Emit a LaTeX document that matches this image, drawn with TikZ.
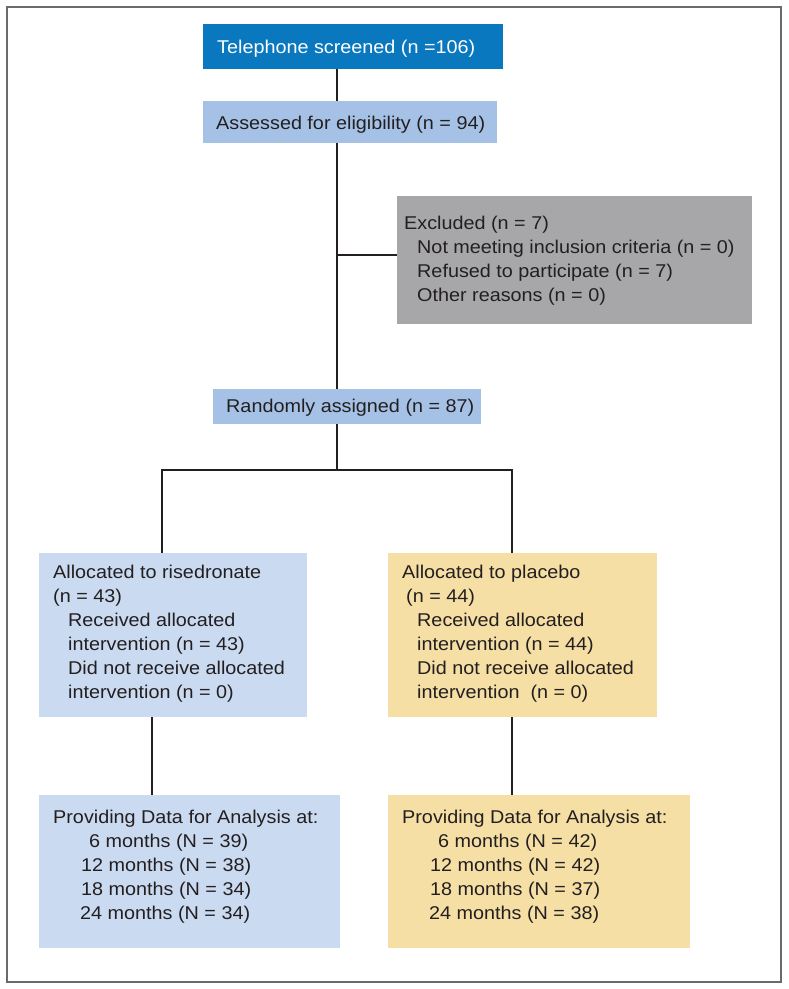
\documentclass[tikz,border=0pt]{standalone}
\usepackage{fontspec}
\setmainfont{Liberation Sans}[FakeStretch=1.07]
\definecolor{txt}{HTML}{231F20}
\definecolor{topblue}{HTML}{0A78BF}
\definecolor{midblue}{HTML}{A5C2E6}
\definecolor{paleblue}{HTML}{CADAF0}
\definecolor{paleyellow}{HTML}{F5DFA5}
\definecolor{exclgray}{HTML}{A7A7A9}
\definecolor{framegray}{HTML}{6A6A6A}
\tikzset{
  box/.style={rectangle, inner sep=0pt, draw=none, anchor=north west},
  lbl/.style={inner sep=0pt, anchor=base west, align=left, text=txt,
    font=\fontsize{18.5}{24}\selectfont},
  conn/.style={draw=txt, line width=1.4pt}
}
\newcommand{\ind}[1]{\hspace*{#1pt}}
\begin{document}
\begin{tikzpicture}[x=1pt,y=-1pt]
\useasboundingbox (0,0) rectangle (788,989);
\draw[framegray, line width=2pt] (7,7) rectangle (781,982);

% boxes
\node[box, fill=topblue, minimum width=300pt, minimum height=45pt] (tel) at (203,24) {};
\node[box, fill=midblue, minimum width=294pt, minimum height=42pt] (assess) at (203,101) {};
\node[box, fill=exclgray, minimum width=355pt, minimum height=128pt] (excl) at (397,196) {};
\node[box, fill=midblue, minimum width=268pt, minimum height=35pt] (rand) at (213,389) {};
\node[box, fill=paleblue, minimum width=268pt, minimum height=164pt] (allocA) at (39,553) {};
\node[box, fill=paleyellow, minimum width=269pt, minimum height=164pt] (allocB) at (388,553) {};
\node[box, fill=paleblue, minimum width=301pt, minimum height=153pt] (dataA) at (39,795) {};
\node[box, fill=paleyellow, minimum width=302pt, minimum height=153pt] (dataB) at (388,795) {};

% texts (multi-line nodes: base = baseline of last line)
\node[lbl, text=white] (telT) at (217,53) {Telephone screened (n =106)};
\node[lbl] (assessT) at (216,129) {Assessed for eligibility (n = 94)};
\node[lbl] (exclT) at (404,301) {Excluded (n = 7)\\
\ind{13}Not meeting inclusion criteria (n = 0)\\
\ind{13}Refused to participate (n = 7)\\
\ind{13}Other reasons (n = 0)};
\node[lbl] (randT) at (226,412) {Randomly assigned (n = 87)};
\node[lbl] (allocAT) at (53,698) {Allocated to risedronate\\
(n = 43)\\
\ind{15}Received allocated\\
\ind{15}intervention (n = 43)\\
\ind{15}Did not receive allocated\\
\ind{15}intervention (n = 0)};
\node[lbl] (allocBT) at (402,698) {Allocated to placebo\\
\ind{4}(n = 44)\\
\ind{15}Received allocated\\
\ind{15}intervention (n = 44)\\
\ind{15}Did not receive allocated\\
\ind{15}intervention \ (n = 0)};
\node[lbl] (dataAT) at (53,919) {Providing Data for Analysis at:\\
\ind{36}6 months (N = 39)\\
\ind{28}12 months (N = 38)\\
\ind{28}18 months (N = 34)\\
\ind{27}24 months (N = 34)};
\node[lbl] (dataBT) at (402,919) {Providing Data for Analysis at:\\
\ind{36}6 months (N = 42)\\
\ind{28}12 months (N = 42)\\
\ind{28}18 months (N = 37)\\
\ind{27}24 months (N = 38)};

% connector coordinates
\coordinate (trunk) at (337,0);
\coordinate (branch) at (337,255);
\coordinate (split) at (337,470);
\coordinate (splitL) at (162,470);
\coordinate (splitR) at (512,470);
\coordinate (colL) at (152,0);
\coordinate (colR) at (512,0);

% connectors
\draw[conn] (tel.south -| trunk) -- (assess.north -| trunk);
\draw[conn] (assess.south -| trunk) -- (rand.north -| trunk);
\draw[conn] (branch) -- (branch -| excl.west);
\draw[conn] (rand.south -| trunk) -- (split);
\draw[conn] (allocA.north -| splitL) -- (splitL) -- (splitR) -- (allocB.north -| splitR);
\draw[conn] (allocA.south -| colL) -- (dataA.north -| colL);
\draw[conn] (allocB.south -| colR) -- (dataB.north -| colR);
\end{tikzpicture}
\end{document}
